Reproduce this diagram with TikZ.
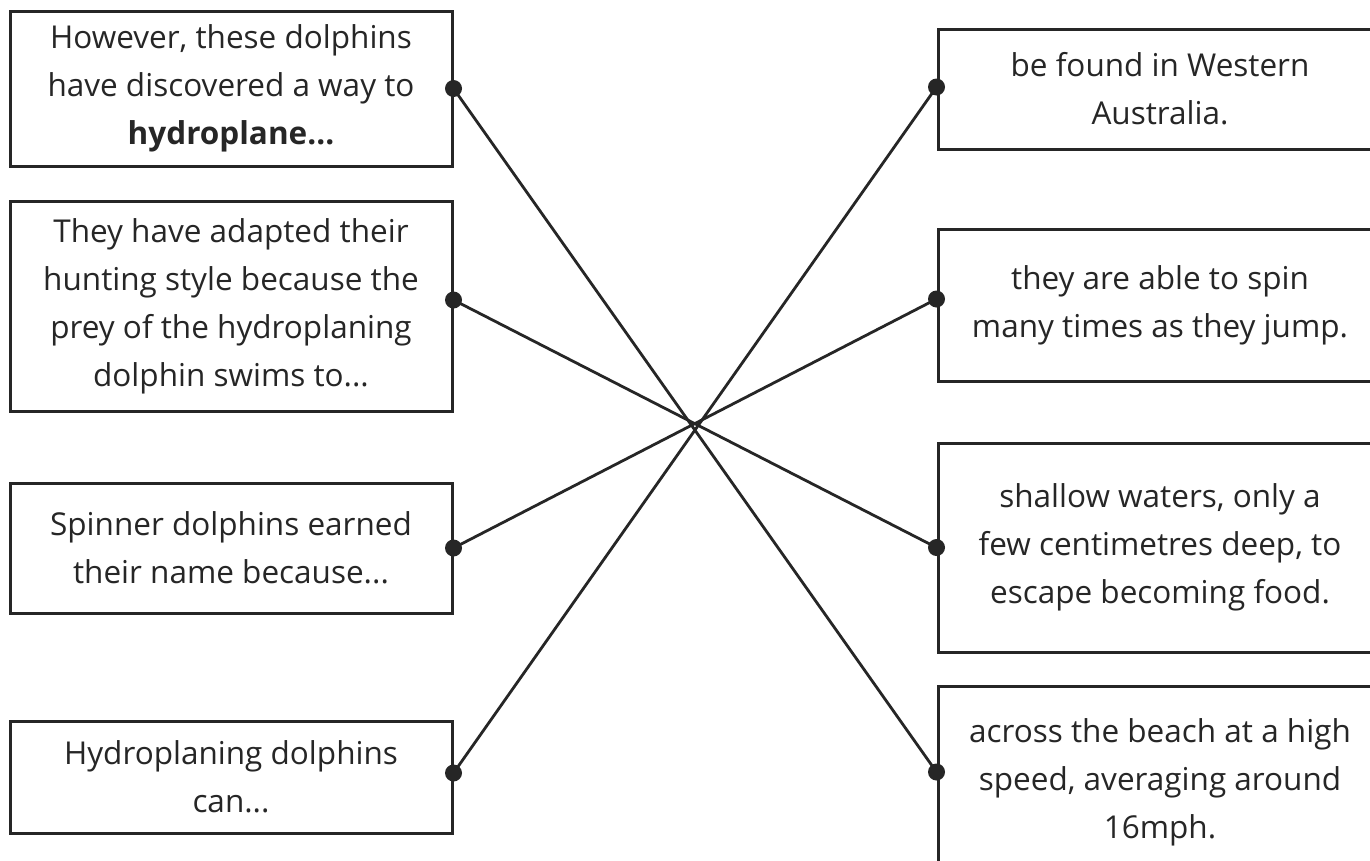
\documentclass[tikz,border=0pt]{standalone}
\usepackage{fontspec}
\setmainfont{Open Sans}
\definecolor{ink}{HTML}{262626}
\begin{document}
\begin{tikzpicture}[x=1pt,y=-1pt,
  box/.style={draw=ink, line width=3pt, rectangle, align=center, text=ink,
    font=\fontsize{31.5}{48}\selectfont, inner sep=0pt},
  link/.style={draw=ink, line width=2.8pt},
  dot/.style={fill=ink, circle, inner sep=0pt, minimum size=17pt}]
\fill[white] (0,0) rectangle (1370,860);
\useasboundingbox (0,0) rectangle (1370,860);
% left column
\node[box, minimum width=442pt, minimum height=155pt] (l1) at (231,88.5)
  {However, these dolphins\\have discovered a way to\\\textbf{hydroplane...}};
\node[box, minimum width=442pt, minimum height=210pt] (l2) at (231,306)
  {They have adapted their\\hunting style because the\\prey of the hydroplaning\\dolphin swims to...};
\node[box, minimum width=442pt, minimum height=130pt] (l3) at (231,548)
  {Spinner dolphins earned\\their name because...};
\node[box, minimum width=442pt, minimum height=112pt] (l4) at (231,777)
  {Hydroplaning dolphins\\can...};
% right column
\node[box, minimum width=444pt, minimum height=120pt] (r1) at (1160,89)
  {be found in Western\\Australia.};
\node[box, minimum width=444pt, minimum height=152pt] (r2) at (1160,305)
  {they are able to spin\\many times as they jump.};
\node[box, minimum width=444pt, minimum height=209pt] (r3) at (1160,547.5)
  {shallow waters, only a\\few centimetres deep, to\\escape becoming food.};
\node[box, minimum width=444pt, minimum height=192pt] (r4) at (1160,782)
  {across the beach at a high\\speed, averaging around\\16mph.};
% connection points
\coordinate (a1) at (l1.east);
\coordinate (a2) at ([yshift=6pt]l2.east);
\coordinate (a3) at (l3.east);
\coordinate (a4) at ([yshift=4pt]l4.east);
\coordinate (b1) at ([yshift=2pt]r1.west);
\coordinate (b2) at ([yshift=6pt]r2.west);
\coordinate (b3) at (r3.west);
\coordinate (b4) at ([yshift=10pt]r4.west);
% connectors
\draw[link] (a1) -- (b4);
\draw[link] (a2) -- (b3);
\draw[link] (a3) -- (b2);
\draw[link] (a4) -- (b1);
% dots
\node[dot] (da1) at (a1) {};
\node[dot] (da2) at (a2) {};
\node[dot] (da3) at (a3) {};
\node[dot] (da4) at (a4) {};
\node[dot] (db1) at (b1) {};
\node[dot] (db2) at (b2) {};
\node[dot] (db3) at (b3) {};
\node[dot] (db4) at (b4) {};
\end{tikzpicture}
\end{document}
